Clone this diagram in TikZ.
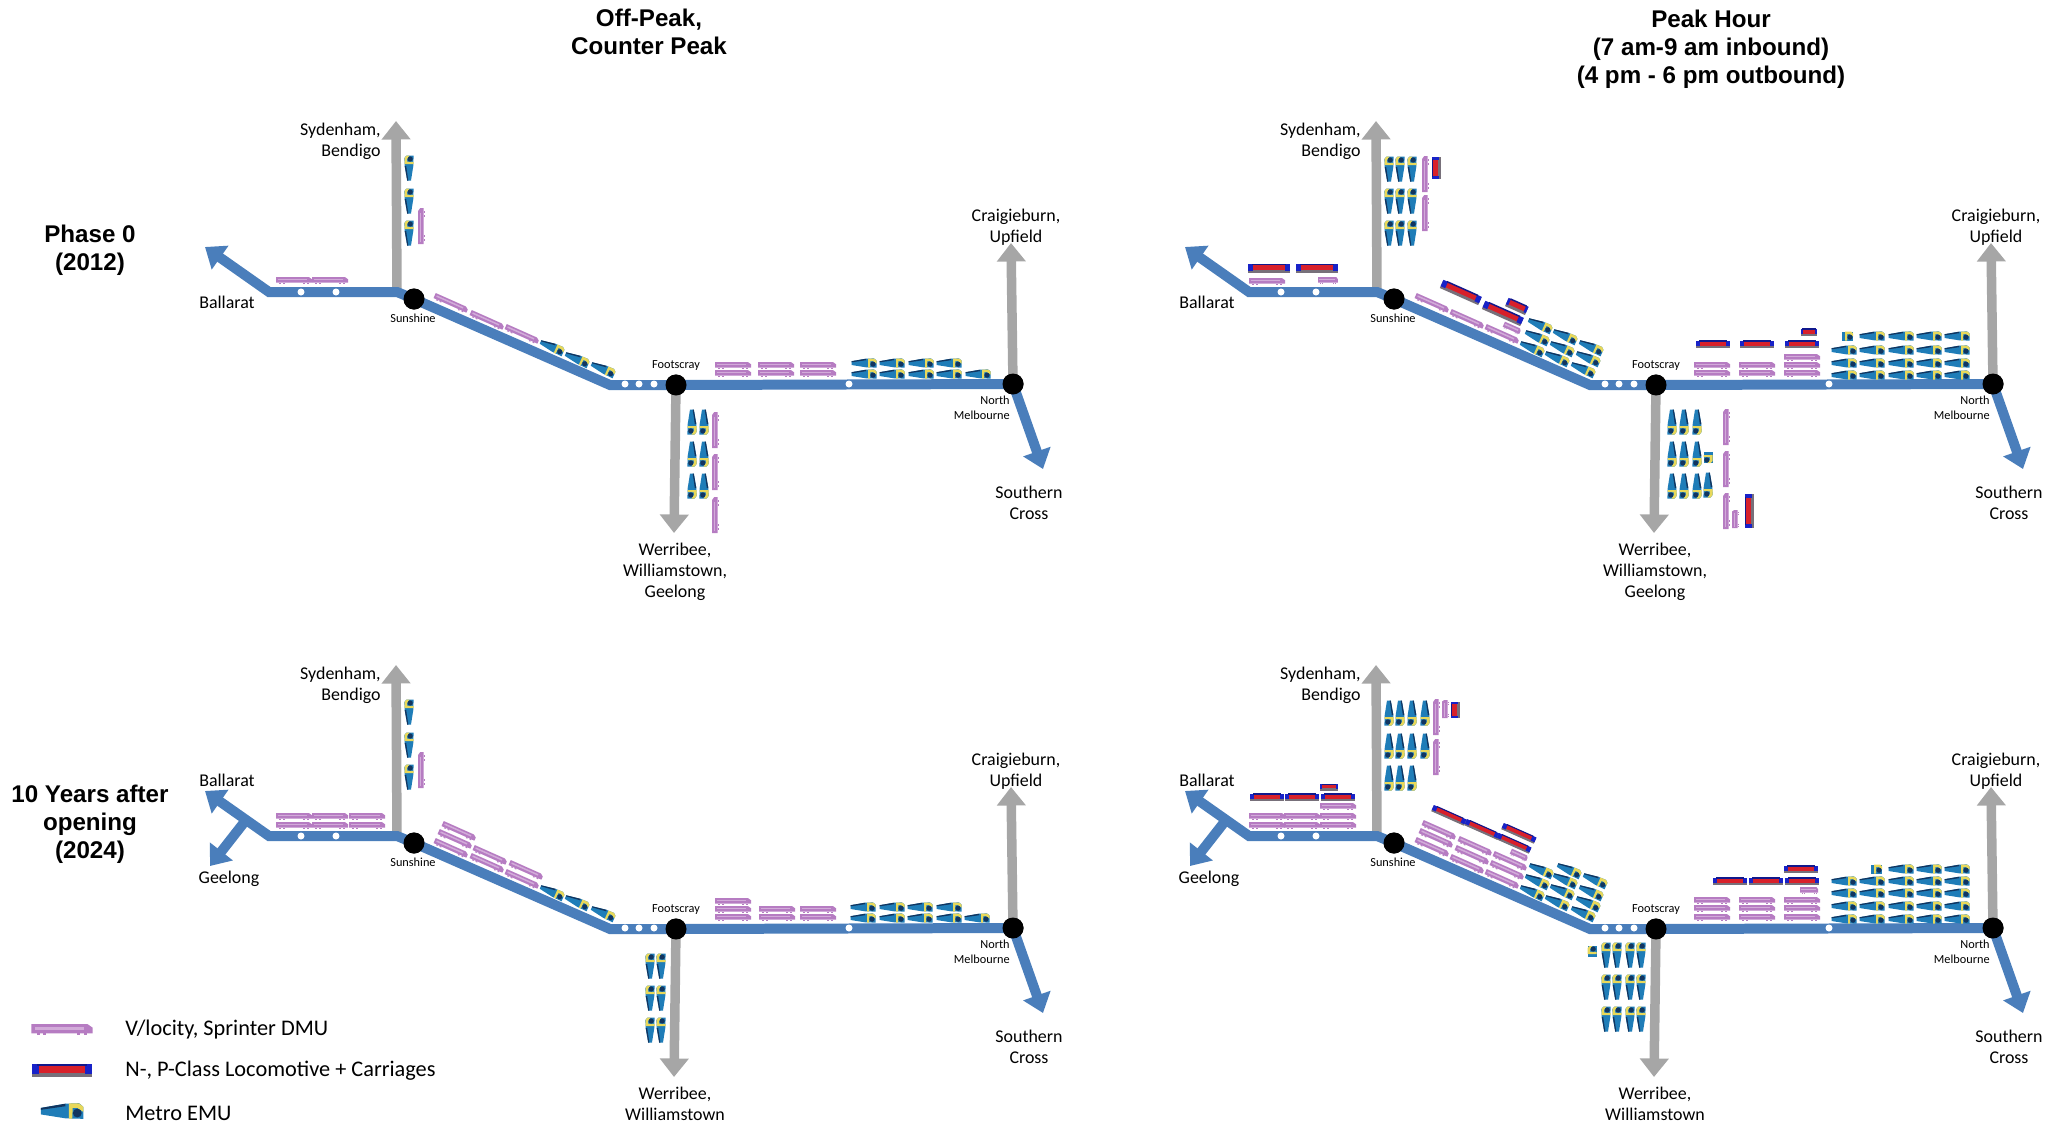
\documentclass[tikz,border=0pt]{standalone}
\usepackage{fontspec}
\usepackage{xcolor}
\usepackage{tikz}
\usetikzlibrary{arrows.meta}
\setmainfont{Carlito}
\newfontfamily\titlefont{Liberation Sans}
\definecolor{trackblue}{HTML}{4A7EBB}
\definecolor{feedgrey}{HTML}{A6A6A6}
\definecolor{dmupurple}{HTML}{B67CC2}
\definecolor{dmulight}{HTML}{D2ABD9}
\definecolor{locored}{HTML}{D8202A}
\definecolor{locoblue}{HTML}{1822C8}
\definecolor{locogrey}{HTML}{77707A}
\definecolor{emublue}{HTML}{1F7DB8}
\definecolor{emunavy}{HTML}{12355F}
\definecolor{emuyellow}{HTML}{E8D85A}
\tikzset{
  bigtip/.style={-{Triangle[length=.37cm,width=.56cm]}},
  track/.style={line width=.2cm,trackblue,line join=miter},
  feeder/.style={line width=.19cm,feedgrey,bigtip},
  hub/.style={circle,fill=black,inner sep=0pt,minimum size=.42cm},
  halt/.style={circle,fill=white,inner sep=0pt,minimum size=.14cm},
  place/.style={font=\fontsize{10.2}{12}\selectfont,align=center,inner sep=0pt,yshift=-.03cm},
  placer/.style={place,align=right,anchor=east},
  hubname/.style={font=\fontsize{7}{8.6}\selectfont,inner sep=0pt,yshift=-.02cm},
  headline/.style={font=\titlefont\bfseries\fontsize{13.75}{15.9}\selectfont,align=center,inner sep=0pt},
  keytext/.style={font=\fontsize{12.7}{15}\selectfont,anchor=west,inner sep=0pt},
  dmu/.pic={
    \fill[dmupurple] (-18,-2.9) -- (15,-2.9) -- (18,-.8) -- (18,2.6) -- (-18,2.6) -- cycle;
    \fill[dmulight] (-16,-1.2) rectangle (13,.3);
    \foreach \w in {-15,-11,9,13} \fill[dmupurple] (\w,2.6) rectangle ++(1.8,1);
  },
  loco/.pic={
    \fill[locogrey] (-21,-3.5) rectangle (21,5);
    \fill[locored] (-17,-4) rectangle (17,2);
    \fill[locoblue] (-21,-4) rectangle (-16,3);
    \fill[locoblue] (16,-4) rectangle (21,3);
    \fill[locoblue!70!black] (-17,-4.5) rectangle (17,-3);
  },
  emu/.pic={
    \fill[emublue] (-12.5,-1.8) -- (2,-4.3) -- (10,-4.6) -- (12.5,-2.5) -- (12.5,4.6) -- (2,4.3) -- (-12.5,2) -- cycle;
    \fill[emunavy] (-12.5,-1.8) -- (2,-4.3) -- (2,-2.8) -- (-12.5,-.7) -- cycle;
    \fill[emuyellow] (4,-4.5) -- (10,-4.5) -- (12.5,-2.5) -- (12.5,.5) -- (9,-1.8) -- (6.3,-1.8) -- (6,4.5) -- (4,4.5) -- cycle;
    \fill[emunavy] (9,1.2) circle (2.6);
  },
  emustub/.pic={
    \fill[emublue] (-4,-4.5) rectangle (7,4.5);
    \fill[emuyellow] (-1,-4.5) -- (5,-4.5) -- (7,-2.5) -- (7,.5) -- (4,-1.8) -- (1.2,-1.8) -- (1,4.5) -- (-1,4.5) -- cycle;
    \fill[emunavy] (4,1.2) circle (2.6);
  },
  corridor/.pic={
    \coordinate (ballarattip) at (205,247);
    \coordinate (westelbow) at (269,292);
    \coordinate (sydbend) at (397,292);
    \coordinate (eastelbow) at (610,385);
    \coordinate (sydtip) at (396,121);
    \coordinate (werribeetip) at (674,533);
    \coordinate (craigtip) at (1011,243);
    \coordinate (crosstip) at (1043,469);
    \node[hub] (sunshine) at (414,299) {};
    \node[hub] (footscray) at (676,385) {};
    \node[hub] (northmelb) at (1013,384) {};
    \draw[feeder] (sydbend) -- (sydtip);
    \draw[feeder] (footscray.center) -- (werribeetip);
    \draw[feeder] (northmelb.center) -- (craigtip);
    \draw[track,{Triangle[length=.37cm,width=.56cm]}-] (ballarattip) -- (westelbow) -- (sydbend) -- (sunshine.center) -- (eastelbow) -- (footscray.center) -- (northmelb.center);
    \draw[track,bigtip] (northmelb.center) -- (crosstip);
    \foreach \x/\y in {301/292,336/292,625/384,639/384,654/384,849/384} \node[halt] (halt\x) at (\x,\y) {};
    \node[hub] at (sunshine) {};
    \node[hub] at (footscray) {};
    \node[hub] at (northmelb) {};
    \node[hubname] (sunshinename) at (413,317) {Sunshine};
    \node[hubname] (footscrayname) at (676,365) {Footscray};
    \node[hubname,align=right,anchor=east] (northmelbname) at (1010,407) {North\\Melbourne};
    \node[placer] (sydname) at (381,140) {Sydenham,\\Bendigo};
    \node[place] (craigname) at (1016,226) {Craigieburn,\\Upfield};
    \node[place] (crossname) at (1029,501) {Southern\\Cross};
  }
}
\begin{document}
\begin{tikzpicture}[x=.02cm,y=-.02cm]
  \useasboundingbox (0,0) rectangle (2067,1123);
  % headings
  \node[headline] (offpeak) at (649,32) {Off-Peak,\\Counter Peak};
  \node[headline] (peak) at (1711,49) {Peak Hour\\(7 am-9 am inbound)\\(4 pm - 6 pm outbound)};
  \node[headline] (phasezero) at (90,250) {Phase 0\\(2012)};
  \node[headline] (tenyears) at (90,824) {10 Years after\\opening\\(2024)};

  % off-peak 2012
  \begin{scope}[name prefix=oa-]
    \pic at (0,0) {corridor};
    \node[place] (ballaratname) at (227,301) {Ballarat};
    \node[place] (werribeename) at (675,570) {Werribee,\\Williamstown,\\Geelong};
    \foreach \x in {294,330} \pic at (\x,280) {dmu};
    \foreach \y in {168,201,233} \pic[rotate=90] at (409,\y) {emu};
    \pic[rotate=90] at (421,226) {dmu};
    \foreach \x/\y in {451/303,487/320,522/334} \pic[rotate=-24] at (\x,\y) {dmu};
    \foreach \x/\y in {552/347,577/359,603/369} \pic[rotate=-24] at (\x,\y) {emu};
    \foreach \x in {733,776,818} \foreach \y in {365,373} \pic at (\x,\y) {dmu};
    \foreach \x/\y in {864/363,892/363,921/363,949/363,864/374,892/374,921/374,949/374,978/374} \pic at (\x,\y) {emu};
    \foreach \x in {692,704} \foreach \y in {422,454,486} \pic[rotate=-90] at (\x,\y) {emu};
    \foreach \y in {430,472,515} \pic[rotate=90] at (715,\y) {dmu};
  \end{scope}

  % peak 2012
  \begin{scope}[shift={(980,0)},name prefix=pa-]
    \pic at (0,0) {corridor};
    \node[place] (ballaratname) at (227,301) {Ballarat};
    \node[place] (werribeename) at (675,570) {Werribee,\\Williamstown,\\Geelong};
    \foreach \x in {289,337} \pic at (\x,268) {loco};
    \pic at (287,281) {dmu};
    \pic[xscale=.55] at (348,280) {dmu};
    \foreach \x in {409,420,432} \foreach \y in {169,201,233} \pic[rotate=90] at (\x,\y) {emu};
    \foreach \y in {174,213} \pic[rotate=90] at (445,\y) {dmu};
    \pic[rotate=90,xscale=.52] at (456,168) {loco};
    \foreach \x/\y in {481/292,523/313} \pic[rotate=-24] at (\x,\y) {loco};
    \pic[rotate=-24,xscale=.52] at (537,306) {loco};
    \foreach \x/\y in {452/303,487/319,522/334} \pic[rotate=-24] at (\x,\y) {dmu};
    \pic[rotate=-24,xscale=.5] at (532,328) {dmu};
    \foreach \x/\y in {560/325,585/336,611/347,557/337,582/348,608/358,552/348,577/358,603/369} \pic[rotate=-24] at (\x,\y) {emu};
    \foreach \x in {733,777,822} \pic[xscale=.82,yscale=.8] at (\x,344) {loco};
    \pic[xscale=.4,yscale=.8] at (829,332) {loco};
    \foreach \x in {732,777,822} \foreach \y in {365,373} \pic at (\x,\y) {dmu};
    \pic at (822,357) {dmu};
    \foreach \x in {864,892,921,949,977} \foreach \y in {350,363,375} \pic at (\x,\y) {emu};
    \foreach \x in {892,921,949,977} \pic at (\x,336) {emu};
    \pic at (866,336) {emustub};
    \foreach \x in {692,704,717} \foreach \y in {422,454,486} \pic[rotate=-90] at (\x,\y) {emu};
    \pic[rotate=-90] at (728,485) {emu};
    \pic[rotate=-90] at (728,456) {emustub};
    \foreach \y in {427,469,511} \pic[rotate=90] at (746,\y) {dmu};
    \pic[rotate=90,xscale=.5] at (755,519) {dmu};
    \pic[rotate=90,xscale=.8] at (769,511) {loco};
  \end{scope}

  % off-peak 2024
  \begin{scope}[shift={(0,544)},name prefix=ob-]
    \coordinate (geelongfork) at (246,276);
    \coordinate (geelongtip) at (210,322);
    \draw[track,bigtip] (geelongfork) -- (geelongtip);
    \pic at (0,0) {corridor};
    \node[place] (ballaratname) at (227,235) {Ballarat};
    \node[place] (geelongname) at (229,333) {Geelong};
    \node[place] (werribeename) at (675,558) {Werribee,\\Williamstown};
    \foreach \x in {294,330,367} \foreach \y in {272,281} \pic at (\x,\y) {dmu};
    \foreach \y in {168,201,233} \pic[rotate=90] at (409,\y) {emu};
    \pic[rotate=90] at (421,226) {dmu};
    \foreach \x/\y in {459/287,455/295,451/304,490/311,487/319,526/326,522/335} \pic[rotate=-24] at (\x,\y) {dmu};
    \foreach \x/\y in {552/348,577/358,603/369} \pic[rotate=-24] at (\x,\y) {emu};
    \pic at (733,357) {dmu};
    \foreach \x in {733,777,818} \foreach \y in {365,373} \pic at (\x,\y) {dmu};
    \foreach \x/\y in {863/363,892/363,920/363,949/363,863/374,892/374,920/374,949/374,977/374} \pic at (\x,\y) {emu};
    \foreach \x in {650,661} \foreach \y in {422,454,486} \pic[rotate=90] at (\x,\y) {emu};
  \end{scope}

  % peak 2024
  \begin{scope}[shift={(980,544)},name prefix=pb-]
    \coordinate (geelongfork) at (246,276);
    \coordinate (geelongtip) at (210,322);
    \draw[track,bigtip] (geelongfork) -- (geelongtip);
    \pic at (0,0) {corridor};
    \node[place] (ballaratname) at (227,235) {Ballarat};
    \node[place] (geelongname) at (229,333) {Geelong};
    \node[place] (werribeename) at (675,558) {Werribee,\\Williamstown};
    \foreach \x in {287,322,358} \pic[xscale=.82,yscale=.8] at (\x,253) {loco};
    \pic[xscale=.42,yscale=.7] at (349,243) {loco};
    \foreach \x in {287,322,358} \foreach \y in {272,281} \pic at (\x,\y) {dmu};
    \pic at (358,262) {dmu};
    \foreach \x in {409,420,432,445} \foreach \y in {169,202} \pic[rotate=-90] at (\x,\y) {emu};
    \foreach \x in {409,420,432} \pic[rotate=-90] at (\x,234) {emu};
    \foreach \y in {173,213} \pic[rotate=90] at (456,\y) {dmu};
    \pic[rotate=90,xscale=.5] at (465,165) {dmu};
    \pic[rotate=90,xscale=.38] at (475,166) {loco};
    \foreach \x/\y in {469/271,502/285,539/289,534/299} \pic[rotate=-24,xscale=.85,yscale=.75] at (\x,\y) {loco};
    \foreach \x/\y in {459/286,456/294,452/303,495/302,492/311,487/320,530/317,527/326,522/335} \pic[rotate=-24] at (\x,\y) {dmu};
    \pic[rotate=-24,xscale=.5] at (539,311) {dmu};
    \foreach \x/\y in {561/326,557/337,552/348,589/326,585/336,582/347,577/358,615/336,611/348,608/359,603/369} \pic[rotate=-24] at (\x,\y) {emu};
    \foreach \x in {750,786,822} \pic[xscale=.82,yscale=.8] at (\x,337) {loco};
    \pic[xscale=.82,yscale=.8] at (821,325) {loco};
    \pic[xscale=.5] at (829,346) {dmu};
    \foreach \x in {732,777,822} \foreach \y in {356,364,373} \pic at (\x,\y) {dmu};
    \foreach \x in {864,892,921,949,977} \foreach \y in {337,349,362,375} \pic at (\x,\y) {emu};
    \foreach \x in {921,949,977} \pic at (\x,325) {emu};
    \pic at (895,325) {emustub};
    \foreach \x in {626,637,650,661} \foreach \y in {411,443,475} \pic[rotate=90] at (\x,\y) {emu};
    \pic[rotate=90] at (612,409) {emustub};
  \end{scope}

  % legend
  \pic[scale=1.7] at (62,1029) {dmu};
  \pic[xscale=1.45,yscale=1.4] at (62,1070) {loco};
  \pic[scale=1.7] at (62,1111) {emu};
  \node[keytext] (dmukey) at (125,1030) {V/locity, Sprinter DMU};
  \node[keytext] (locokey) at (125,1071) {N-, P-Class Locomotive + Carriages};
  \node[keytext] (emukey) at (125,1113) {Metro EMU};
\end{tikzpicture}
\end{document}
